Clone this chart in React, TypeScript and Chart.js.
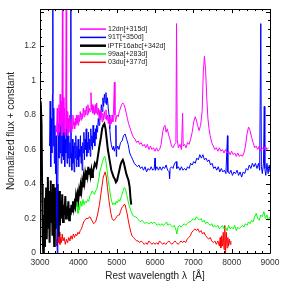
import React, { useEffect, useRef } from "react";
import { Chart, registerables } from "chart.js";

Chart.register(...registerables);

// ---- data ----
const seriesLabels = ["12dn[+315d]", "91T[+350d]", "iPTF16abc[+342d]", "99aa[+283d]", "03du[+377d]"];
const seriesColors = ["#ff00ff", "#0000ff", "#000000", "#00ff00", "#ff0000"];

const wl12dn = [3430, 3450, 3465, 3480, 3495, 3510, 3525, 3540, 3555, 3570, 3585, 3595, 3610, 3625, 3640, 3655, 3670, 3685, 3695, 3710, 3725, 3740, 3755, 3770, 3785, 3800, 3815, 3830, 3845, 3860, 3875, 3890, 3905, 3920, 3935, 3950, 3965, 3980, 3995, 4010, 4030, 4050, 4070, 4090, 4110, 4130, 4150, 4170, 4190, 4210, 4230, 4250, 4270, 4290, 4310, 4330, 4345, 4360, 4380, 4400, 4420, 4440, 4460, 4480, 4500, 4520, 4540, 4560, 4580, 4600, 4620, 4640, 4660, 4680, 4700, 4720, 4740, 4760, 4780, 4800, 4820, 4840, 4860, 4880, 4900, 4920, 4940, 4955, 4970, 4990, 5010, 5040, 5070, 5100, 5130, 5160, 5190, 5220, 5250, 5280, 5310, 5340, 5370, 5400, 5440, 5480, 5520, 5560, 5600, 5640, 5680, 5720, 5760, 5800, 5840, 5880, 5920, 5960, 6000, 6040, 6080, 6120, 6160, 6200, 6230, 6260, 6290, 6320, 6350, 6390, 6430, 6470, 6510, 6545, 6562, 6580, 6610, 6650, 6690, 6720, 6735, 6770, 6810, 6850, 6890, 6930, 6970, 7010, 7050, 7080, 7110, 7150, 7190, 7230, 7260, 7290, 7320, 7350, 7380, 7410, 7440, 7480, 7520, 7560, 7600, 7640, 7680, 7720, 7760, 7800, 7840, 7880, 7920, 7960, 8000, 8040, 8080, 8120, 8160, 8200, 8240, 8280, 8320, 8360, 8400, 8440, 8480, 8520, 8560, 8600, 8640, 8680, 8720, 8760, 8800, 8840, 8880, 8920, 8960, 9000];
const fx12dn = [0.70, 0.84, 0.68, 0.72, 0.86, 0.70, 0.92, 0.74, 0.88, 0.68, 1.45, 0.76, 0.90, 0.70, 0.84, 0.68, 0.80, 1.45, 0.72, 0.82, 0.68, 0.78, 0.70, 0.80, 0.72, 0.76, 0.70, 0.78, 0.72, 0.80, 0.74, 0.76, 0.72, 0.78, 0.74, 0.80, 0.75, 0.79, 0.74, 0.80, 0.76, 0.82, 0.77, 0.81, 0.78, 0.84, 0.79, 0.83, 0.80, 0.85, 0.80, 0.86, 0.81, 0.84, 0.82, 0.93, 0.83, 0.86, 0.81, 0.85, 0.80, 0.86, 0.81, 0.87, 0.80, 0.84, 0.78, 0.83, 0.77, 0.82, 0.76, 0.81, 0.77, 0.82, 0.78, 0.83, 0.77, 0.80, 0.75, 0.79, 0.74, 0.78, 0.75, 0.80, 0.76, 0.84, 0.99, 0.80, 0.76, 0.78, 0.80, 0.79, 0.82, 0.84, 0.86, 0.87, 0.86, 0.84, 0.81, 0.78, 0.75, 0.73, 0.71, 0.69, 0.67, 0.66, 0.64, 0.65, 0.63, 0.64, 0.62, 0.63, 0.61, 0.63, 0.60, 0.62, 0.60, 0.61, 0.59, 0.61, 0.59, 0.60, 0.63, 0.70, 0.73, 0.74, 0.70, 0.72, 0.69, 0.66, 0.62, 0.61, 0.63, 0.64, 1.33, 0.66, 0.61, 0.63, 0.60, 0.81, 0.62, 0.63, 0.61, 0.64, 0.63, 0.66, 0.70, 0.76, 0.79, 0.77, 0.74, 0.71, 0.74, 0.82, 1.05, 1.14, 1.06, 0.90, 0.78, 0.72, 0.68, 0.64, 0.62, 0.60, 0.61, 0.59, 0.61, 0.59, 0.60, 0.58, 0.60, 0.58, 0.59, 0.57, 0.59, 0.57, 0.58, 0.56, 0.58, 0.56, 0.57, 0.56, 0.58, 0.62, 0.69, 0.73, 0.71, 0.67, 0.64, 0.61, 0.62, 0.60, 0.62, 0.59, 0.61, 0.60, 0.62, 0.60, 0.61];

const wl91T = [3250, 3265, 3280, 3295, 3310, 3325, 3335, 3345, 3360, 3375, 3390, 3405, 3420, 3435, 3450, 3465, 3480, 3495, 3510, 3525, 3540, 3555, 3570, 3585, 3600, 3615, 3630, 3645, 3660, 3675, 3690, 3705, 3720, 3735, 3750, 3765, 3780, 3795, 3805, 3815, 3830, 3845, 3860, 3875, 3890, 3905, 3920, 3935, 3950, 3965, 3980, 3995, 4010, 4025, 4040, 4055, 4070, 4085, 4100, 4115, 4130, 4145, 4160, 4175, 4190, 4205, 4220, 4235, 4250, 4265, 4280, 4295, 4310, 4325, 4340, 4355, 4370, 4385, 4400, 4415, 4430, 4445, 4460, 4480, 4500, 4520, 4540, 4560, 4580, 4600, 4620, 4640, 4660, 4680, 4700, 4720, 4740, 4760, 4780, 4800, 4820, 4840, 4860, 4880, 4900, 4920, 4940, 4960, 4980, 4990, 5000, 5030, 5060, 5100, 5140, 5180, 5220, 5260, 5300, 5340, 5380, 5420, 5460, 5500, 5540, 5580, 5620, 5660, 5700, 5740, 5780, 5820, 5860, 5900, 5940, 5980, 6000, 6010, 6050, 6090, 6130, 6170, 6210, 6250, 6290, 6330, 6370, 6380, 6395, 6430, 6470, 6510, 6550, 6570, 6610, 6650, 6690, 6730, 6770, 6810, 6850, 6890, 6930, 6970, 7010, 7050, 7090, 7130, 7170, 7210, 7250, 7290, 7330, 7370, 7410, 7450, 7490, 7530, 7570, 7610, 7650, 7690, 7730, 7770, 7810, 7850, 7890, 7900, 7940, 7980, 8020, 8060, 8100, 8140, 8180, 8220, 8260, 8300, 8340, 8380, 8420, 8460, 8500, 8540, 8580, 8620, 8660, 8700, 8730, 8760, 8775, 8800, 8830, 8850, 8865, 8890, 8920, 8950, 8980, 9000];
const fx91T = [0.62, 0.88, 0.50, 0.78, 0.58, 0.92, 1.45, 0.62, 0.84, 0.52, 0.74, 0.46, 0.68, 0.22, 0.00, 0.40, 0.75, 0.55, 0.82, 0.58, 0.76, 0.52, 0.70, 0.56, 0.80, 0.54, 0.72, 0.50, 0.66, 0.58, 0.78, 0.52, 0.70, 0.55, 0.68, 0.50, 0.64, 0.55, 1.45, 0.58, 0.48, 0.66, 0.52, 0.62, 0.47, 0.64, 0.55, 0.68, 0.50, 0.62, 0.54, 0.66, 0.50, 0.60, 0.56, 0.68, 0.52, 0.62, 0.48, 0.64, 0.58, 0.70, 0.54, 0.66, 0.60, 0.72, 0.56, 0.64, 0.58, 0.70, 0.60, 0.66, 0.56, 0.72, 0.62, 0.68, 0.60, 0.74, 0.64, 0.70, 0.62, 0.72, 0.66, 0.74, 0.70, 0.78, 0.74, 0.82, 0.78, 0.86, 0.82, 0.90, 0.85, 0.92, 0.87, 0.93, 0.86, 0.90, 0.84, 0.80, 0.72, 0.66, 0.63, 0.61, 0.60, 0.62, 0.59, 0.61, 0.74, 0.56, 0.60, 0.62, 0.60, 0.64, 0.65, 0.68, 0.69, 0.66, 0.63, 0.58, 0.56, 0.54, 0.52, 0.51, 0.50, 0.51, 0.49, 0.50, 0.48, 0.50, 0.47, 0.49, 0.48, 0.50, 0.48, 0.49, 0.55, 0.48, 0.50, 0.48, 0.50, 0.48, 0.50, 0.49, 0.51, 0.48, 0.47, 0.43, 0.49, 0.50, 0.49, 0.52, 0.53, 0.49, 0.50, 0.48, 0.50, 0.48, 0.49, 0.48, 0.50, 0.49, 0.52, 0.51, 0.53, 0.52, 0.55, 0.54, 0.57, 0.55, 0.57, 0.54, 0.55, 0.53, 0.54, 0.51, 0.52, 0.49, 0.50, 0.48, 0.50, 0.47, 0.49, 0.47, 0.48, 0.46, 0.68, 0.47, 0.46, 0.48, 0.45, 0.47, 0.46, 0.48, 0.45, 0.47, 0.44, 0.47, 0.46, 0.49, 0.48, 0.51, 0.49, 0.52, 0.50, 0.52, 0.49, 0.52, 0.48, 1.33, 0.50, 0.46, 0.52, 0.85, 0.49, 0.45, 0.52, 0.46, 0.51, 0.47];

const wl16abc = [3000, 3010, 3025, 3040, 3055, 3070, 3085, 3100, 3115, 3130, 3145, 3160, 3175, 3190, 3205, 3220, 3235, 3250, 3265, 3280, 3295, 3310, 3325, 3340, 3355, 3370, 3385, 3400, 3415, 3430, 3445, 3460, 3475, 3490, 3505, 3520, 3540, 3560, 3580, 3600, 3620, 3640, 3660, 3680, 3700, 3720, 3740, 3760, 3780, 3800, 3820, 3840, 3860, 3880, 3900, 3920, 3940, 3960, 3980, 4000, 4020, 4040, 4060, 4080, 4100, 4120, 4140, 4160, 4180, 4200, 4220, 4240, 4260, 4280, 4300, 4320, 4340, 4360, 4380, 4400, 4430, 4470, 4510, 4550, 4590, 4620, 4650, 4680, 4710, 4740, 4770, 4800, 4830, 4860, 4890, 4920, 4950, 4980, 5010, 5040, 5070, 5100, 5130, 5160, 5190, 5220, 5250, 5280, 5310, 5340, 5360, 5380];
const fx16abc = [0.70, 0.85, 0.88, 0.75, 0.40, 0.10, 0.00, 0.22, 0.04, 0.32, 0.12, 0.38, 0.08, 0.26, 0.44, 0.14, 0.36, 0.06, 0.30, 0.42, 0.18, 0.34, 0.10, 0.40, 0.24, 0.04, 0.30, 0.38, 0.14, 0.33, 0.20, 0.40, 0.10, 0.28, 0.36, 0.16, 0.30, 0.20, 0.34, 0.18, 0.28, 0.22, 0.33, 0.20, 0.27, 0.22, 0.30, 0.19, 0.26, 0.22, 0.28, 0.24, 0.30, 0.26, 0.29, 0.27, 0.33, 0.30, 0.34, 0.31, 0.36, 0.33, 0.39, 0.36, 0.41, 0.38, 0.44, 0.41, 0.46, 0.43, 0.48, 0.45, 0.50, 0.46, 0.49, 0.45, 0.48, 0.44, 0.47, 0.49, 0.52, 0.50, 0.56, 0.62, 0.67, 0.72, 0.74, 0.75, 0.72, 0.66, 0.60, 0.56, 0.52, 0.48, 0.46, 0.44, 0.43, 0.41, 0.42, 0.45, 0.48, 0.51, 0.53, 0.54, 0.52, 0.49, 0.46, 0.44, 0.42, 0.38, 0.32, 0.28];

const wl99aa = [3950, 3970, 3990, 4010, 4030, 4060, 4090, 4120, 4150, 4180, 4210, 4240, 4270, 4300, 4330, 4360, 4390, 4420, 4450, 4480, 4510, 4540, 4570, 4600, 4630, 4660, 4690, 4720, 4750, 4780, 4810, 4840, 4870, 4900, 4930, 4960, 4990, 5020, 5050, 5080, 5110, 5140, 5170, 5200, 5230, 5260, 5290, 5320, 5350, 5380, 5420, 5460, 5500, 5540, 5580, 5620, 5660, 5700, 5740, 5780, 5820, 5860, 5900, 5940, 5980, 6020, 6060, 6100, 6140, 6180, 6220, 6260, 6300, 6340, 6380, 6420, 6460, 6500, 6540, 6570, 6600, 6640, 6680, 6720, 6760, 6800, 6840, 6880, 6920, 6960, 7000, 7040, 7080, 7120, 7160, 7200, 7240, 7280, 7320, 7360, 7400, 7440, 7480, 7520, 7560, 7600, 7640, 7680, 7720, 7760, 7800, 7840, 7880, 7920, 7960, 8000, 8040, 8080, 8120, 8160, 8200, 8240, 8280, 8320, 8360, 8400, 8440, 8480, 8520, 8560, 8600, 8640, 8680, 8720, 8760, 8800, 8840, 8880, 8920, 8960, 9000];
const fx99aa = [0.27, 0.31, 0.23, 0.29, 0.25, 0.30, 0.27, 0.31, 0.28, 0.30, 0.29, 0.31, 0.30, 0.33, 0.34, 0.36, 0.35, 0.34, 0.36, 0.37, 0.40, 0.44, 0.48, 0.50, 0.53, 0.55, 0.56, 0.53, 0.48, 0.42, 0.38, 0.33, 0.30, 0.28, 0.29, 0.28, 0.30, 0.29, 0.31, 0.30, 0.32, 0.34, 0.36, 0.38, 0.37, 0.34, 0.31, 0.28, 0.26, 0.24, 0.22, 0.21, 0.21, 0.20, 0.19, 0.18, 0.19, 0.18, 0.17, 0.18, 0.17, 0.17, 0.18, 0.17, 0.18, 0.17, 0.16, 0.17, 0.16, 0.17, 0.16, 0.17, 0.18, 0.16, 0.17, 0.16, 0.15, 0.16, 0.14, 0.11, 0.15, 0.16, 0.15, 0.16, 0.17, 0.16, 0.17, 0.18, 0.18, 0.19, 0.20, 0.19, 0.21, 0.20, 0.19, 0.20, 0.18, 0.19, 0.17, 0.18, 0.17, 0.16, 0.17, 0.15, 0.16, 0.15, 0.16, 0.14, 0.15, 0.16, 0.14, 0.15, 0.13, 0.16, 0.14, 0.15, 0.14, 0.16, 0.13, 0.15, 0.14, 0.15, 0.16, 0.15, 0.17, 0.16, 0.18, 0.17, 0.19, 0.18, 0.21, 0.23, 0.20, 0.19, 0.22, 0.21, 0.24, 0.20, 0.22, 0.19, 0.21];

const wl03du = [3400, 3420, 3440, 3460, 3480, 3500, 3520, 3540, 3560, 3580, 3600, 3630, 3660, 3690, 3720, 3750, 3780, 3810, 3840, 3870, 3900, 3930, 3960, 3990, 4020, 4050, 4080, 4110, 4140, 4170, 4200, 4250, 4300, 4350, 4400, 4450, 4500, 4550, 4600, 4650, 4700, 4730, 4760, 4790, 4820, 4850, 4880, 4910, 4940, 4970, 5000, 5040, 5070, 5100, 5130, 5160, 5190, 5220, 5250, 5280, 5310, 5340, 5370, 5400, 5440, 5480, 5520, 5560, 5600, 5640, 5680, 5720, 5760, 5800, 5840, 5880, 5920, 5960, 6000, 6040, 6080, 6120, 6160, 6200, 6240, 6280, 6320, 6360, 6400, 6440, 6480, 6520, 6560, 6600, 6640, 6680, 6720, 6760, 6800, 6840, 6880, 6920, 6960, 7000, 7040, 7080, 7120, 7160, 7200, 7240, 7280, 7320, 7360, 7400, 7440, 7480, 7520, 7560, 7600, 7640, 7680, 7700, 7720, 7740, 7760, 7780, 7800, 7820, 7840, 7860, 7880, 7900, 7920, 7940, 7960, 7980];
const fx03du = [0.16, 0.08, 0.04, 0.10, 0.06, 0.12, 0.05, 0.09, 0.06, 0.11, 0.07, 0.09, 0.05, 0.08, 0.06, 0.09, 0.07, 0.10, 0.08, 0.11, 0.09, 0.11, 0.10, 0.12, 0.11, 0.13, 0.14, 0.16, 0.18, 0.19, 0.20, 0.20, 0.21, 0.19, 0.17, 0.18, 0.22, 0.28, 0.36, 0.44, 0.47, 0.44, 0.38, 0.32, 0.27, 0.23, 0.20, 0.19, 0.19, 0.20, 0.21, 0.22, 0.22, 0.24, 0.26, 0.27, 0.28, 0.28, 0.25, 0.22, 0.18, 0.15, 0.12, 0.10, 0.09, 0.08, 0.07, 0.07, 0.06, 0.07, 0.06, 0.05, 0.06, 0.05, 0.07, 0.06, 0.05, 0.06, 0.05, 0.06, 0.05, 0.07, 0.06, 0.05, 0.06, 0.05, 0.06, 0.07, 0.06, 0.05, 0.06, 0.07, 0.06, 0.05, 0.06, 0.07, 0.06, 0.07, 0.06, 0.08, 0.09, 0.10, 0.12, 0.13, 0.14, 0.13, 0.14, 0.12, 0.13, 0.11, 0.12, 0.10, 0.09, 0.08, 0.09, 0.07, 0.06, 0.07, 0.05, 0.07, 0.04, 0.09, 0.03, 0.10, 0.04, 0.12, 0.02, 0.16, 0.00, 0.12, 0.03, 0.09, 0.04, 0.08, 0.05, 0.07];

const seriesWl = [wl12dn, wl91T, wl16abc, wl99aa, wl03du];
const seriesFx = [fx12dn, fx91T, fx16abc, fx99aa, fx03du];
const seriesWidths = [1, 1, 2, 1, 1];

const xMin = 3000;
const xMax = 9000;
const xStep = 1000;
const xMinorStep = 200;
const yMin = 0;
const yMax = 1.414;
const yStep = 0.2;
const yMinorStep = 0.05;
const yLabelMax = 1.2;

const FONT = "'Liberation Sans', Arial, Helvetica, sans-serif";

const framePlugin = {
  id: "frameTicks",
  afterDraw(chart: any) {
    const { ctx, chartArea: a, scales } = chart;
    const xs = scales.x;
    const ys = scales.y;
    ctx.save();
    ctx.strokeStyle = "#000";
    ctx.lineWidth = 1;
    ctx.beginPath();
    ctx.rect(Math.round(a.left) + 0.5, Math.round(a.top) + 0.5, Math.round(a.right - a.left), Math.round(a.bottom - a.top));
    ctx.stroke();
    ctx.beginPath();
    for (let v = xMin; v <= xMax + 1e-6; v += xMinorStep) {
      const major = Math.abs(v / xStep - Math.round(v / xStep)) < 1e-6;
      const len = major ? 4 : 2;
      const px = Math.round(xs.getPixelForValue(v)) + 0.5;
      ctx.moveTo(px, a.bottom);
      ctx.lineTo(px, a.bottom - len);
      ctx.moveTo(px, a.top);
      ctx.lineTo(px, a.top + len);
    }
    for (let v = yMin; v <= yMax + 1e-6; v += yMinorStep) {
      const major = Math.abs(v / yStep - Math.round(v / yStep)) < 1e-6;
      const len = major ? 4 : 2;
      const py = Math.round(ys.getPixelForValue(v)) + 0.5;
      ctx.moveTo(a.left, py);
      ctx.lineTo(a.left + len, py);
      ctx.moveTo(a.right, py);
      ctx.lineTo(a.right - len, py);
    }
    ctx.stroke();
    ctx.restore();
  },
};

const legendPlugin = {
  id: "insideLegend",
  afterDatasetsDraw(chart: any) {
    const { ctx, chartArea: a } = chart;
    ctx.save();
    ctx.font = `7px ${FONT}`;
    ctx.textBaseline = "middle";
    ctx.textAlign = "left";
    chart.data.datasets.forEach((ds: any, i: number) => {
      const y = a.top + 20 + i * 8.3;
      const x0 = a.left + 40;
      ctx.strokeStyle = ds.borderColor;
      ctx.lineWidth = ds.borderWidth + 0.5;
      ctx.beginPath();
      ctx.moveTo(x0, y);
      ctx.lineTo(x0 + 26, y);
      ctx.stroke();
      ctx.fillStyle = "#222";
      ctx.fillText(ds.label, x0 + 28, y);
    });
    ctx.restore();
  },
};

export default function App() {
  const ref = useRef<HTMLCanvasElement | null>(null);
  useEffect(() => {
    document.body.style.margin = "0";
    const canvas = ref.current;
    if (!canvas) return;
    const datasets = seriesLabels.map((label, i) => ({
      label,
      data: seriesWl[i].map((w, j) => ({ x: w, y: seriesFx[i][j] })),
      borderColor: seriesColors[i],
      backgroundColor: seriesColors[i],
      borderWidth: seriesWidths[i],
      pointRadius: 0,
      tension: 0,
      fill: false,
    }));
    const chart = new Chart(canvas, {
      type: "line",
      data: { datasets },
      options: {
        animation: false,
        responsive: false,
        maintainAspectRatio: false,
        events: [],
        layout: { padding: { top: 9, right: 29, left: 0, bottom: 0 } },
        plugins: { legend: { display: false }, tooltip: { enabled: false } },
        scales: {
          x: {
            type: "linear",
            min: xMin,
            max: xMax,
            grid: { display: false, drawTicks: false },
            border: { display: false },
            ticks: {
              stepSize: xStep,
              padding: 5,
              maxRotation: 0,
              color: "#333",
              font: { family: FONT, size: 8.5 },
              callback: (v: any) => String(v),
            },
            title: {
              display: true,
              text: "Rest wavelength λ  [Å]",
              color: "#222",
              font: { family: FONT, size: 10 },
              padding: { top: 0, bottom: 2 },
            },
            afterFit: (s: any) => {
              s.height = 31;
            },
          },
          y: {
            type: "linear",
            min: yMin,
            max: yMax,
            grid: { display: false, drawTicks: false },
            border: { display: false },
            ticks: {
              stepSize: yStep,
              includeBounds: false,
              padding: 4,
              color: "#333",
              font: { family: FONT, size: 8.5 },
              callback: (v: any) => (v <= yLabelMax + 1e-6 ? String(Math.round(v * 10) / 10) : ""),
            },
            title: {
              display: true,
              text: "Normalized flux + constant",
              color: "#222",
              font: { family: FONT, size: 10 },
              padding: { top: 5, bottom: 0 },
            },
            afterFit: (s: any) => {
              s.width = 40;
            },
          },
        },
      },
      plugins: [legendPlugin, framePlugin],
    });
    return () => chart.destroy();
  }, []);
  return (
    <div style={{ width: 299, height: 284 }}>
      <canvas ref={ref} width={299} height={284} style={{ display: "block" }} />
    </div>
  );
}
